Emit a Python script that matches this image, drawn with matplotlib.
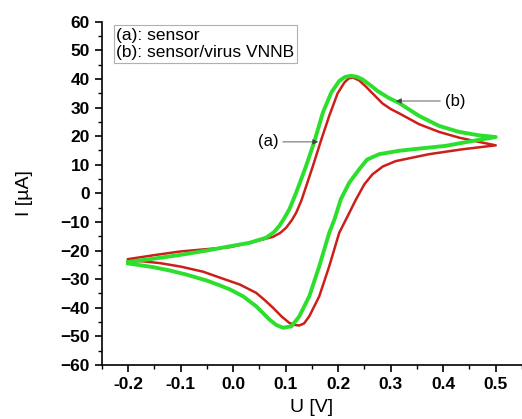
import numpy as np
import matplotlib.pyplot as plt

plt.rcParams['font.family'] = ['Liberation Sans', 'DejaVu Sans']

# (a) sensor - forward (anodic) sweep
u_a_fwd = [-0.2, -0.15, -0.1, -0.05, -0.006, 0.044, 0.076, 0.09, 0.101, 0.112, 0.12,
           0.13, 0.14, 0.152, 0.167, 0.183, 0.199, 0.212, 0.22, 0.228, 0.24, 0.253,
           0.268, 0.284, 0.3, 0.316, 0.354, 0.392, 0.43, 0.468, 0.5]
i_a_fwd = [-23.0, -21.6, -20.3, -19.5, -18.8, -16.7, -15.2, -13.8, -12.0, -9.3, -6.8,
           -2.5, 3.0, 9.6, 18.3, 27.1, 35.0, 38.8, 40.2, 40.5, 39.5, 37.3,
           34.5, 31.5, 29.5, 28.0, 24.2, 21.5, 19.5, 18.0, 16.8]
# (a) sensor - reverse (cathodic) sweep
u_a_rev = [0.5, 0.436, 0.373, 0.31, 0.285, 0.265, 0.25, 0.234, 0.218, 0.202, 0.183,
           0.164, 0.145, 0.135, 0.126, 0.117, 0.107, 0.092, 0.076, 0.06, 0.044, 0.013,
           -0.02, -0.057, -0.1, -0.139, -0.17, -0.2]
i_a_rev = [16.8, 15.4, 13.7, 11.3, 9.4, 6.6, 3.2, -2.1, -8.0, -13.8, -25.5,
           -36.0, -43.0, -45.5, -46.2, -46.0, -45.3, -43.0, -40.0, -37.3, -34.8, -31.9,
           -29.8, -27.4, -25.6, -24.4, -23.8, -23.4]

# (b) sensor/virus VNNB - forward sweep
u_b_fwd = [-0.2, -0.15, -0.1, -0.05, -0.006, 0.031, 0.063, 0.078, 0.088, 0.098, 0.107,
           0.12, 0.139, 0.155, 0.171, 0.187, 0.202, 0.213, 0.224, 0.235, 0.246, 0.26,
           0.275, 0.296, 0.316, 0.354, 0.392, 0.43, 0.468, 0.5]
i_b_fwd = [-24.0, -22.8, -21.5, -20.0, -18.5, -17.3, -15.5, -13.5, -11.4, -8.5, -5.6,
           0.2, 9.6, 18.3, 28.3, 35.3, 39.3, 40.7, 41.1, 40.8, 39.9, 38.0,
           35.8, 33.4, 31.6, 27.1, 23.6, 21.5, 20.3, 19.7]
# (b) sensor/virus VNNB - reverse sweep
u_b_rev = [0.5, 0.455, 0.404, 0.341, 0.316, 0.278, 0.255, 0.24, 0.221, 0.205, 0.193,
           0.183, 0.164, 0.145, 0.126, 0.111, 0.095, 0.082, 0.069, 0.044, 0.019, -0.006,
           -0.025, -0.05, -0.089, -0.12, -0.152, -0.2]
i_b_rev = [19.7, 18.3, 16.6, 15.4, 14.9, 13.7, 11.8, 8.4, 3.7, -2.1, -9.1,
           -13.8, -25.5, -36.0, -43.0, -46.5, -47.0, -46.0, -44.1, -39.5, -36.0, -33.6,
           -32.2, -30.5, -28.4, -27.0, -25.8, -24.5]

legend_lines = ['(a): sensor', '(b): sensor/virus VNNB']
x_ticks = [-0.2, -0.1, 0.0, 0.1, 0.2, 0.3, 0.4, 0.5]
y_ticks = [-60, -50, -40, -30, -20, -10, 0, 10, 20, 30, 40, 50, 60]

fig = plt.figure(figsize=(5.22, 4.19), dpi=100)
ax = fig.add_axes([0.195, 0.129, 0.805, 0.819])

red = '#cc1f1a'
green = '#2ddf2d'
ax.plot(u_a_fwd + u_a_rev, i_a_fwd + i_a_rev, color=red, lw=1.8, zorder=2,
        solid_joinstyle='round')
ax.plot(u_b_fwd + u_b_rev, i_b_fwd + i_b_rev, color=green, lw=2.8, zorder=3,
        solid_joinstyle='round')

ax.set_xlim(-0.25, 0.55)
ax.set_ylim(-60, 60)
ax.set_xticks(x_ticks)
ax.set_xticks(np.arange(-0.25, 0.551, 0.05), minor=True)
ax.set_yticks(y_ticks)
ax.set_yticks(np.arange(-60, 61, 5), minor=True)
ax.set_xticklabels([f'{v:.1f}' for v in x_ticks])
ax.spines['top'].set_visible(False)
ax.spines['right'].set_visible(False)
ax.spines['left'].set_linewidth(1.2)
ax.spines['bottom'].set_linewidth(1.2)
ax.tick_params(which='major', direction='out', length=5, width=1.2, labelsize=12.5)
ax.tick_params(which='minor', direction='out', length=3, width=1.0)
for lab in ax.get_xticklabels() + ax.get_yticklabels():
    lab.set_fontweight('bold')
ax.set_xlabel('U [V]', fontsize=14, labelpad=5)
ax.set_ylabel('I [\u00b5A]', fontsize=14, labelpad=20)

ax.text(-0.222, 58.0, '\n'.join(legend_lines), fontsize=12.5, va='top', ha='left',
        linespacing=1.2,
        bbox=dict(boxstyle='square,pad=0.15', fc='white', ec='#b0b0b0', lw=0.8))

arrow_style = dict(arrowstyle='-|>', color='#444444', lw=0.6,
                   mutation_scale=8, shrinkA=1, shrinkB=0)
ax.annotate('(a)', xy=(0.162, 18), xytext=(0.067, 18), fontsize=12,
            va='center', ha='center', arrowprops=arrow_style)
ax.annotate('(b)', xy=(0.31, 32.3), xytext=(0.422, 32.3), fontsize=12,
            va='center', ha='center', arrowprops=arrow_style)

fig.savefig('out.png', dpi=100)
